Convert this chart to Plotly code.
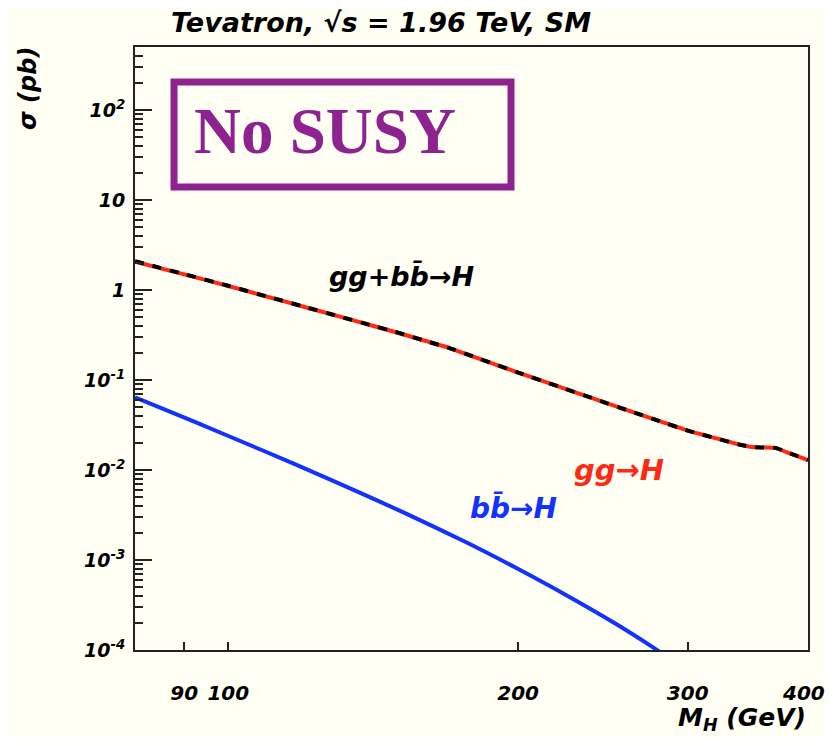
import math
import plotly.graph_objects as go

# Higgs mass (GeV)
mh_gg = [80, 90, 100, 110, 120, 130, 140, 150, 160, 170, 180, 200, 220, 240,
         260, 280, 300, 320, 340, 350, 360, 370, 380, 390, 400]
# gg -> H cross section (pb)
sigma_gg = [2.07, 1.489, 1.109, 0.837, 0.648, 0.512, 0.411, 0.335, 0.273, 0.225,
            0.181, 0.121, 0.0851, 0.0617, 0.0459, 0.0352, 0.0274, 0.0227, 0.0191,
            0.0180, 0.0178, 0.0176, 0.0158, 0.0143, 0.0129]
# gg + bb -> H cross section (pb), visually coincident with gg -> H
sigma_tot = [2.09, 1.50, 1.114, 0.840, 0.650, 0.513, 0.412, 0.336, 0.273, 0.225,
             0.181, 0.121, 0.0851, 0.0617, 0.0459, 0.0352, 0.0274, 0.0227, 0.0191,
             0.0180, 0.0178, 0.0176, 0.0158, 0.0143, 0.0129]
# bb -> H
mh_bb = [80, 92.3, 108.3, 127.1, 152.8, 176.4, 198.9, 224.2, 252.8, 277.2, 290]
sigma_bb = [0.0643, 0.0342, 0.01667, 0.00798, 0.00330, 0.001585, 8.20e-4, 4.09e-4,
            1.945e-4, 1.042e-4, 7.5e-5]

xtick_vals = [90, 100, 200, 300, 400]
xtick_text = ["90", "100", "200", "300", "400"]
ytick_vals = [1e-4, 1e-3, 1e-2, 1e-1, 1, 10, 100]
ytick_text = ["10<sup>-4</sup>", "10<sup>-3</sup>", "10<sup>-2</sup>", "10<sup>-1</sup>",
              "1", "10", "10<sup>2</sup>"]

BG = "#fffff4"
PURPLE = "#8e2290"
RED = "#ff2a14"
BLUE = "#1432ff"
FONT = "DejaVu Sans"
AX = "#222222"
TICKFONT_X = dict(family=FONT, size=20, color="black", weight="bold", style="italic")

fig = go.Figure()
fig.add_trace(go.Scatter(x=mh_gg, y=sigma_gg, mode="lines",
                         line=dict(color=RED, width=4, shape="spline", smoothing=0.5),
                         showlegend=False))
fig.add_trace(go.Scatter(x=mh_gg, y=sigma_tot, mode="lines",
                         line=dict(color="black", width=4, dash="9px,9px",
                                   shape="spline", smoothing=0.5),
                         showlegend=False))
fig.add_trace(go.Scatter(x=mh_bb, y=sigma_bb, mode="lines",
                         line=dict(color=BLUE, width=4, shape="spline", smoothing=0.6),
                         showlegend=False))

fig.update_layout(
    width=817, height=730,
    margin=dict(l=127, r=17, t=39, b=88),
    paper_bgcolor=BG, plot_bgcolor=BG,
    title=dict(text="Tevatron, √s = 1.96 TeV, SM", xref="paper", x=0.3655,
               xanchor="center", yref="container", y=0.9795, yanchor="middle",
               font=dict(family=FONT, size=27, color="black", weight="bold", style="italic")),
    showlegend=False,
)

# the last tick label sits on the figure edge; it is drawn as an annotation so it is not hidden
fig.update_xaxes(type="log", range=[1.90309, 2.60206],
                 showline=True, linecolor=AX, linewidth=2, mirror=True,
                 showgrid=False, zeroline=False,
                 tickmode="array", tickvals=xtick_vals,
                 ticktext=xtick_text[:-1] + [""],
                 ticks="inside", ticklen=8, tickwidth=2, tickcolor=AX,
                 ticklabelstandoff=24,
                 tickfont=TICKFONT_X)
fig.add_annotation(text=xtick_text[-1], xref="x", yref="paper",
                   x=math.log10(xtick_vals[-1]), y=-0.0713, xshift=-5,
                   xanchor="center", yanchor="middle", showarrow=False, font=TICKFONT_X)

fig.update_yaxes(type="log", range=[-4, 2.7],
                 showline=True, linecolor=AX, linewidth=2, mirror=True,
                 showgrid=False, zeroline=False,
                 tickmode="array", tickvals=ytick_vals, ticktext=ytick_text,
                 ticks="inside", ticklen=17, tickwidth=2, tickcolor=AX,
                 ticklabelstandoff=4,
                 minor=dict(ticks="inside", ticklen=8, tickwidth=2, tickcolor=AX,
                            dtick="D1", showgrid=False),
                 tickfont=dict(family=FONT, size=19, color="black", weight="bold", style="italic"))

# axis titles
fig.add_annotation(text="σ (pb)", xref="paper", yref="paper", x=-0.159, y=0.932,
                   xanchor="center", yanchor="middle", textangle=-90, showarrow=False,
                   font=dict(family=FONT, size=24, color="black", weight="bold", style="italic"))
fig.add_annotation(text="M<sub>H</sub> (GeV)", xref="paper", yref="paper", x=1.0, y=-0.1145,
                   xanchor="right", yanchor="middle", showarrow=False,
                   font=dict(family=FONT, size=25, color="black", weight="bold", style="italic"))

# curve labels
fig.add_annotation(text="gg+bb\u0304→H", xref="paper", yref="paper", x=0.3967, y=0.620,
                   xanchor="center", yanchor="middle", showarrow=False,
                   font=dict(family=FONT, size=27, color="black", weight="bold", style="italic"))
fig.add_annotation(text="gg→H", xref="paper", yref="paper", x=0.719, y=0.2985,
                   xanchor="center", yanchor="middle", showarrow=False,
                   font=dict(family=FONT, size=29, color=RED, weight="bold", style="italic"))
fig.add_annotation(text="bb\u0304→H", xref="paper", yref="paper", x=0.5617, y=0.2347,
                   xanchor="center", yanchor="middle", showarrow=False,
                   font=dict(family=FONT, size=28, color=BLUE, weight="bold", style="italic"))

# No SUSY box
fig.add_shape(type="rect", xref="paper", yref="paper", x0=0.058, x1=0.5587, y0=0.768, y1=0.942,
              line=dict(color=PURPLE, width=7), fillcolor="rgba(0,0,0,0)")
fig.add_annotation(text="<b>No SUSY</b>", xref="paper", yref="paper", x=0.282, y=0.861,
                   xanchor="center", yanchor="middle", showarrow=False,
                   font=dict(family="Liberation Serif", size=65, color=PURPLE))

fig.write_html("out.html")
